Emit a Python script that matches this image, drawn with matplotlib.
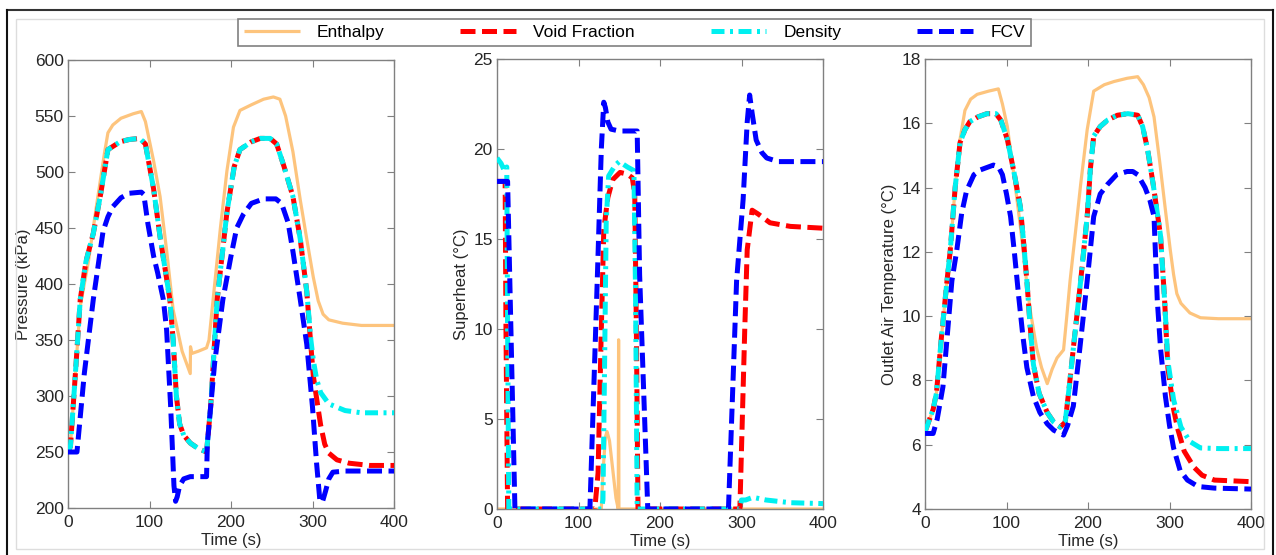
import matplotlib
matplotlib.use("Agg")
import matplotlib.pyplot as plt
from matplotlib.lines import Line2D

plt.rcParams['font.family'] = ['Liberation Sans', 'DejaVu Sans']
plt.rcParams['font.size'] = 12

# ---- pressure (kPa) ----
t_p_enth = [0, 3, 10, 15, 25, 35, 45, 49, 55, 65, 80, 90, 95, 105, 113, 121, 129, 140, 146, 150,
            150.3, 152, 160, 170, 173, 180, 187, 195, 203, 211, 225, 240, 252, 260, 267, 276,
            285, 293, 301, 307, 313, 320, 337, 360, 400]
p_enth = [250, 256, 330, 380, 420, 470, 518, 535, 542, 548, 552, 554, 545, 510, 478, 430, 377, 340, 328, 320,
          344, 338, 340, 343, 350, 400, 450, 501, 540, 555, 560, 565, 567, 565, 550, 518,
          475, 440, 406, 385, 373, 368, 365, 363, 363]

t_p_void = [0, 3, 10, 15, 22, 31, 40, 49, 64, 75, 88, 95, 105, 113, 125, 129, 133, 137, 142, 150, 160, 170,
            175, 183, 195, 204, 211, 225, 236, 248, 256, 265, 276, 285, 293, 298, 301, 305, 310, 315, 320,
            330, 345, 370, 400]
p_void = [250, 255, 330, 386, 420, 445, 480, 520, 527, 529, 530, 525, 485, 442, 386, 350, 300, 275, 265, 258, 253, 250,
          290, 386, 464, 505, 520, 527, 530, 530, 525, 505, 478, 440, 393, 345, 318, 298, 274, 257, 249,
          243, 240, 238, 238]

t_p_dens = [0, 3, 10, 15, 22, 31, 40, 49, 64, 75, 88, 95, 105, 113, 125, 129, 133, 137, 142, 150, 160, 170,
            175, 183, 195, 204, 211, 225, 236, 248, 256, 265, 276, 285, 293, 298, 301, 305, 310, 320,
            340, 360, 400]
p_dens = [250, 255, 330, 386, 420, 445, 480, 520, 527, 529, 530, 525, 485, 442, 386, 350, 300, 275, 265, 258, 253, 250,
          290, 386, 464, 505, 520, 527, 530, 530, 525, 505, 478, 440, 393, 350, 332, 315, 303, 293,
          287, 285, 285]

t_p_fcv = [0, 11, 20, 31, 43, 49, 55, 65, 75, 90, 93, 98, 105, 110, 117, 121, 126, 130, 132, 134, 137, 142,
           150, 170, 171, 180, 190, 200, 207, 215, 225, 240, 255, 262, 270, 276, 285, 293, 300, 305, 309,
           312, 316, 320, 325, 340, 400]
p_fcv = [250, 250, 320, 386, 447, 460, 469, 477, 481, 482, 480, 454, 425, 410, 386, 359, 290, 220, 206, 210, 220, 226,
         228, 228, 258, 330, 386, 425, 450, 462, 472, 476, 476, 472, 455, 429, 386, 346, 290, 240, 207,
         205, 215, 226, 232, 233, 233]

# ---- superheat (degC) ----
t_s_enth = [0, 128, 130, 133, 135, 138, 142, 146, 148.8, 149.2, 149.6, 400]
s_enth = [0, 0, 2.0, 4.0, 4.3, 3.8, 2.2, 0.6, 0, 9.4, 0, 0]

t_s_void = [0, 10, 11, 13, 120, 124, 128, 131, 136, 142, 151, 160, 166, 169, 171, 173,
            298, 301, 304, 307, 313, 320, 335, 360, 400]
s_void = [18.2, 18.2, 10, 0, 0, 2, 10, 15.5, 17.3, 18.3, 18.7, 18.6, 18.4, 17.5, 10, 0,
          0, 5, 10, 14.4, 16.6, 16.4, 15.9, 15.7, 15.6]

t_s_dens = [0, 5, 9, 12, 13, 14.5, 128, 130, 132, 134, 137, 145, 150, 160, 168, 170, 172,
            298, 300, 305, 314, 330, 360, 400]
s_dens = [19.5, 19.2, 18.8, 19.0, 10, 0, 0, 0.5, 8, 16, 18.5, 19.1, 19.3, 19.0, 18.8, 12, 0,
          0, 0.5, 0.5, 0.65, 0.5, 0.35, 0.3]

t_s_fcv = [0, 13, 22, 114, 123, 128, 131, 133, 136, 140, 150, 172, 175, 185,
           284, 294, 302, 307, 310, 313, 318, 325, 331, 345, 400]
s_fcv = [18.2, 18.2, 0, 0, 12.7, 20, 22.6, 22.3, 21.5, 21.1, 21.0, 21.0, 13, 0,
         0, 12.7, 17.2, 21.5, 23.0, 22.0, 20.5, 19.8, 19.5, 19.3, 19.3]

# ---- outlet air temperature (degC) ----
t_o_enth = [0, 10, 14, 20, 27, 31, 37, 43, 49, 56, 64, 78, 90, 95, 101, 108, 117, 125, 129, 137, 143, 150,
            156, 162, 170, 174, 178, 185, 191, 199, 207, 220, 232, 248, 261, 268, 275, 281, 288, 295,
            301, 305, 309, 314, 325, 338, 360, 400]
o_enth = [6.4, 7.1, 7.6, 9.3, 11.1, 12.05, 14.0, 15.5, 16.4, 16.75, 16.9, 17.0, 17.07, 16.6, 15.9, 14.6, 12.8, 11.0,
          10.2, 9.0, 8.4, 7.9, 8.35, 8.7, 8.95, 10.0, 11.1, 12.7, 14.1, 15.8, 17.0, 17.2, 17.3, 17.4, 17.45,
          17.2, 16.8, 16.2, 14.8, 13.3, 12.05, 11.3, 10.7, 10.4, 10.1, 9.95, 9.92, 9.92]

t_o_void = [0, 10, 14, 20, 27, 31, 37, 43, 49, 55, 65, 76, 87, 93, 101, 109, 117, 121, 125, 129, 133, 140,
            150, 158, 166, 172, 177, 182, 191, 199, 203, 207, 215, 224, 236, 249, 261, 267, 273, 280,
            289, 294, 298, 305, 310, 318, 330, 340, 355, 400]
o_void = [6.4, 7.1, 7.6, 9.3, 11.1, 12.05, 14.0, 15.4, 15.8, 16.05, 16.2, 16.3, 16.3, 16.1, 15.5, 14.5, 13.4,
          12.3, 11.1, 9.7, 8.5, 7.6, 7.0, 6.7, 6.55, 6.7, 7.8, 9.0, 11.1, 13.1, 14.6, 15.6, 15.9, 16.1,
          16.25, 16.3, 16.25, 15.9, 15.2, 14.1, 12.5, 10.5, 8.4, 7.1, 6.5, 5.8, 5.3, 5.05, 4.9, 4.85]

t_o_dens = [0, 10, 14, 20, 27, 31, 37, 43, 49, 55, 65, 76, 87, 93, 101, 109, 117, 121, 125, 129, 133, 140,
            150, 158, 166, 172, 177, 182, 191, 199, 203, 207, 215, 224, 236, 249, 261, 267, 273, 280,
            289, 294, 298, 305, 314, 325, 338, 360, 400]
o_dens = [6.4, 7.1, 7.6, 9.3, 11.1, 12.05, 14.0, 15.4, 15.8, 16.05, 16.2, 16.3, 16.3, 16.1, 15.5, 14.5, 13.4,
          12.3, 11.1, 9.7, 8.5, 7.6, 7.0, 6.7, 6.55, 6.7, 7.8, 9.0, 11.1, 13.1, 14.6, 15.6, 15.9, 16.1,
          16.25, 16.3, 16.25, 15.9, 15.2, 14.1, 12.5, 10.5, 8.6, 7.4, 6.55, 6.1, 5.9, 5.88, 5.88]

t_o_fcv = [0, 10, 15, 22, 27, 33, 39, 45, 51, 60, 68, 84, 90, 95, 100, 105, 110, 115, 120, 125, 133, 141,
           150, 158, 170, 175, 182, 190, 199, 207, 215, 224, 235, 248, 255, 261, 270, 276, 281, 285,
           289, 295, 300, 305, 313, 322, 335, 355, 400]
o_fcv = [6.35, 6.35, 6.8, 7.8, 9.3, 11.1, 12.05, 13.2, 13.9, 14.4, 14.55, 14.7, 14.65, 14.4, 13.8, 13.1, 11.9,
         10.6, 9.4, 8.4, 7.5, 7.0, 6.65, 6.45, 6.3, 6.6, 7.2, 9.0, 11.1, 13.1, 13.8, 14.1, 14.4, 14.5,
         14.5, 14.4, 14.0, 13.6, 13.1, 10.5, 9.0, 7.5, 6.6, 5.9, 5.2, 4.9, 4.7, 4.65, 4.62]

labels = ["Enthalpy", "Void Fraction", "Density", "FCV"]

W, H = 1276, 555
fig = plt.figure(figsize=(W / 100, H / 100), dpi=100)


def px_axes(x0, y0, x1, y1):
    return fig.add_axes([x0 / W, 1 - y1 / H, (x1 - x0) / W, (y1 - y0) / H])


styles = [
    dict(color="#FDC47D", lw=2.3, ls="-", zorder=2),
    dict(color="#FF0000", lw=3.6, dashes=(3.0, 1.3), zorder=3),
    dict(color="#00F0F0", lw=3.6, dashes=(2.6, 1.1, 0.6, 1.1), zorder=4),
    dict(color="#0000FF", lw=3.6, dashes=(3.0, 1.3), zorder=5),
]

panels = [
    ((68, 60, 394, 508), [(t_p_enth, p_enth), (t_p_void, p_void), (t_p_dens, p_dens), (t_p_fcv, p_fcv)],
     (200, 600), range(200, 601, 50), "Pressure (kPa)"),
    ((497, 59, 823, 509), [(t_s_enth, s_enth), (t_s_void, s_void), (t_s_dens, s_dens), (t_s_fcv, s_fcv)],
     (0, 25), range(0, 26, 5), "Superheat (\u00b0C)"),
    ((925, 59, 1251, 509), [(t_o_enth, o_enth), (t_o_void, o_void), (t_o_dens, o_dens), (t_o_fcv, o_fcv)],
     (4, 18), range(4, 19, 2), "Outlet Air Temperature (\u00b0C)"),
]

handles = []
for box, series, ylim, yticks, ylabel in panels:
    ax = px_axes(*box)
    for (t, v), st in zip(series, styles):
        ln, = ax.plot(t, v, solid_capstyle="butt", dash_capstyle="butt", **st)
        if len(handles) < 4:
            handles.append(ln)
    ax.set_xlim(0, 400)
    ax.set_ylim(*ylim)
    ax.set_xticks(range(0, 401, 100))
    ax.set_yticks(list(yticks))
    ax.set_xlabel("Time (s)", labelpad=2, color="#262626")
    ax.set_ylabel(ylabel, labelpad=3, color="#262626")
    ax.tick_params(direction="in", length=5, top=True, right=True, colors="#808080",
                   labelcolor="#262626", labelsize=12.5)
    ax.tick_params(axis="x", pad=5)
    ax.tick_params(axis="y", pad=3)
    for sp in ax.spines.values():
        sp.set_color("#808080")
        sp.set_linewidth(1)

leg = fig.legend(handles, labels, loc="center", ncol=4, mode="expand",
                 bbox_to_anchor=(238 / W, 1 - 47 / H, (1031 - 238) / W, 29 / H),
                 borderaxespad=0, handlelength=3.2, handletextpad=1.0, fontsize=12.5,
                 fancybox=False, framealpha=1, edgecolor="#808080", borderpad=0.35)
leg.get_frame().set_linewidth(1.2)

# outer frame around the figure
def fx(x):
    return x / W


def fy(y):
    return 1 - y / H


fig.add_artist(Line2D([fx(7), fx(1273)], [fy(10), fy(10)], color="#333333", lw=1.5))
fig.add_artist(Line2D([fx(7), fx(7)], [fy(10), fy(556)], color="#111111", lw=1.5))
fig.add_artist(Line2D([fx(1273), fx(1273)], [fy(10), fy(556)], color="#111111", lw=1.5))
fig.add_artist(plt.Rectangle((fx(16), fy(549)), fx(1264) - fx(16), fy(19) - fy(549),
                             fill=False, edgecolor="#dddddd", lw=1, transform=fig.transFigure))

fig.savefig("out.png", dpi=100)
